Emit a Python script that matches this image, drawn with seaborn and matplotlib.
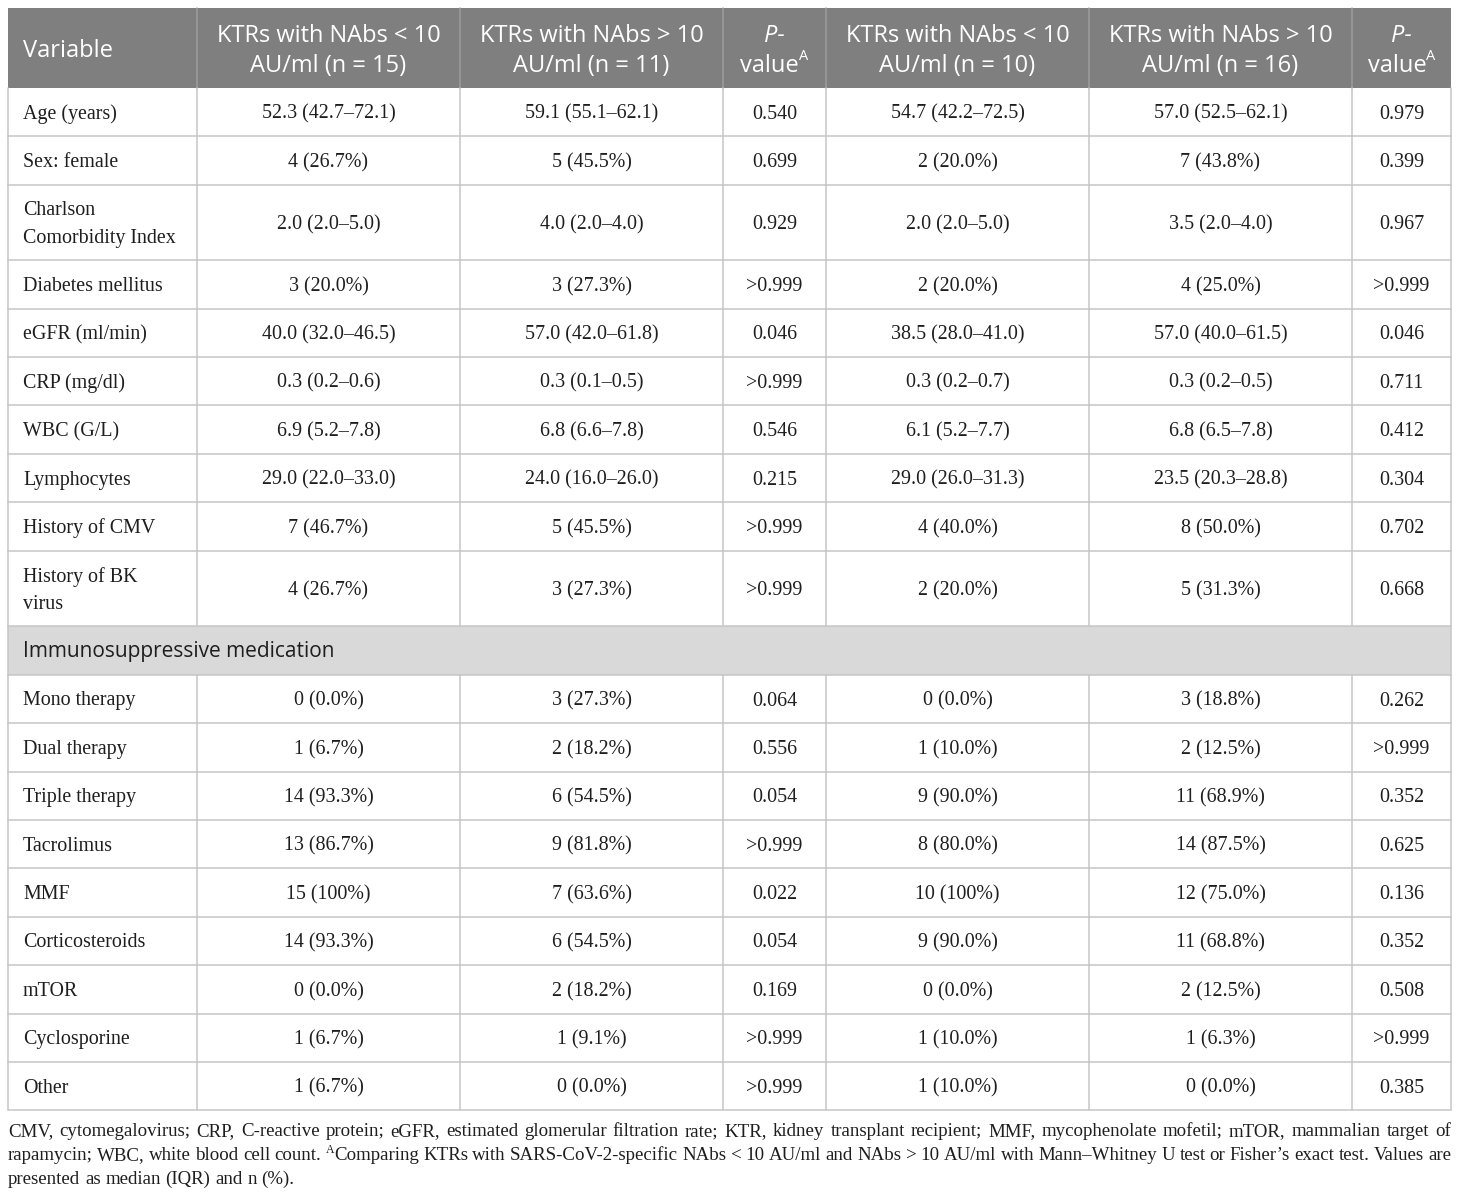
import matplotlib
matplotlib.use("Agg")
import matplotlib.pyplot as plt
import seaborn as sns
import pandas as pd

# ---------------- data ----------------
headers = ["Variable",
           "KTRs with NAbs < 10\nAU/ml (n = 15)",
           "KTRs with NAbs > 10\nAU/ml (n = 11)",
           "P-value",
           "KTRs with NAbs < 10\nAU/ml (n = 10)",
           "KTRs with NAbs > 10\nAU/ml (n = 16)",
           "P-value"]

variables = ["Age (years)", "Sex: female", "Charlson\nComorbidity Index",
             "Diabetes mellitus", "eGFR (ml/min)", "CRP (mg/dl)", "WBC (G/L)",
             "Lymphocytes", "History of CMV", "History of BK\nvirus",
             "Mono therapy", "Dual therapy", "Triple therapy", "Tacrolimus",
             "MMF", "Corticosteroids", "mTOR", "Cyclosporine", "Other"]

section_title = "Immunosuppressive medication"
section_before = "Mono therapy"

low_1 = ["52.3 (42.7–72.1)", "4 (26.7%)", "2.0 (2.0–5.0)", "3 (20.0%)",
         "40.0 (32.0–46.5)", "0.3 (0.2–0.6)", "6.9 (5.2–7.8)", "29.0 (22.0–33.0)",
         "7 (46.7%)", "4 (26.7%)", "0 (0.0%)", "1 (6.7%)", "14 (93.3%)",
         "13 (86.7%)", "15 (100%)", "14 (93.3%)", "0 (0.0%)", "1 (6.7%)", "1 (6.7%)"]
high_1 = ["59.1 (55.1–62.1)", "5 (45.5%)", "4.0 (2.0–4.0)", "3 (27.3%)",
          "57.0 (42.0–61.8)", "0.3 (0.1–0.5)", "6.8 (6.6–7.8)", "24.0 (16.0–26.0)",
          "5 (45.5%)", "3 (27.3%)", "3 (27.3%)", "2 (18.2%)", "6 (54.5%)",
          "9 (81.8%)", "7 (63.6%)", "6 (54.5%)", "2 (18.2%)", "1 (9.1%)", "0 (0.0%)"]
p_1 = ["0.540", "0.699", "0.929", ">0.999", "0.046", ">0.999", "0.546", "0.215",
       ">0.999", ">0.999", "0.064", "0.556", "0.054", ">0.999", "0.022", "0.054",
       "0.169", ">0.999", ">0.999"]
low_2 = ["54.7 (42.2–72.5)", "2 (20.0%)", "2.0 (2.0–5.0)", "2 (20.0%)",
         "38.5 (28.0–41.0)", "0.3 (0.2–0.7)", "6.1 (5.2–7.7)", "29.0 (26.0–31.3)",
         "4 (40.0%)", "2 (20.0%)", "0 (0.0%)", "1 (10.0%)", "9 (90.0%)",
         "8 (80.0%)", "10 (100%)", "9 (90.0%)", "0 (0.0%)", "1 (10.0%)", "1 (10.0%)"]
high_2 = ["57.0 (52.5–62.1)", "7 (43.8%)", "3.5 (2.0–4.0)", "4 (25.0%)",
          "57.0 (40.0–61.5)", "0.3 (0.2–0.5)", "6.8 (6.5–7.8)", "23.5 (20.3–28.8)",
          "8 (50.0%)", "5 (31.3%)", "3 (18.8%)", "2 (12.5%)", "11 (68.9%)",
          "14 (87.5%)", "12 (75.0%)", "11 (68.8%)", "2 (12.5%)", "1 (6.3%)", "0 (0.0%)"]
p_2 = ["0.979", "0.399", "0.967", ">0.999", "0.046", "0.711", "0.412", "0.304",
       "0.702", "0.668", "0.262", ">0.999", "0.352", "0.625", "0.136", "0.352",
       "0.508", ">0.999", "0.385"]

footnote_lines = [
    "CMV, cytomegalovirus; CRP, C-reactive protein; eGFR, estimated glomerular filtration rate; KTR, kidney transplant recipient; MMF, mycophenolate mofetil; mTOR, mammalian target of",
    "rapamycin; WBC, white blood cell count. ^AComparing KTRs with SARS-CoV-2-specific NAbs < 10 AU/ml and NAbs > 10 AU/ml with Mann–Whitney U test or Fisher’s exact test. Values are",
    "presented as median (IQR) and n (%).",
]

df = pd.DataFrame({"Variable": variables, "low_1": low_1, "high_1": high_1, "p_1": p_1,
                   "low_2": low_2, "high_2": high_2, "p_2": p_2})

# ---------------- style ----------------
sns.set_theme(style="white")
plt.rcParams['font.family'] = ['Liberation Serif', 'DejaVu Serif']

SERIF = ['Liberation Serif', 'DejaVu Serif']
SANS = ['Open Sans', 'DejaVu Sans']
HEAD_BG = "#7f7f7f"
SECT_BG = "#d9d9d9"
GRID = "#c6c6c6"
TXT = "#1e1e1e"

W, H = 1460, 1197
fig = plt.figure(figsize=(W / 100, H / 100), dpi=100)
ax = fig.add_axes([0, 0, 1, 1])
ax.set_xlim(0, W)
ax.set_ylim(H, 0)
ax.axis("off")
renderer = fig.canvas.get_renderer()

col_edges = [8, 197, 460, 723, 826, 1089, 1352, 1451]
x_left, x_right = col_edges[0], col_edges[-1]
top, head_h = 8, 80
row_h, row_h2, sect_h = 48.4, 75.5, 48.6
body_fs, head_fs, sect_fs, foot_fs = 14.4, 17.0, 15.0, 13.6
lw = 1.1

# header
ax.add_patch(plt.Rectangle((x_left, top), x_right - x_left, head_h, color=HEAD_BG, lw=0, zorder=0))
for j in range(1, len(col_edges) - 1):
    ax.plot([col_edges[j]] * 2, [top, top + head_h], color="#9c9c9c", lw=lw, zorder=1)
yc = top + head_h / 2
for j, h in enumerate(headers):
    if j == 0:
        ax.text(col_edges[0] + 15, yc + 3, h, ha="left", va="center", color="white",
                fontsize=head_fs, family=SANS)
    elif h == "P-value":
        cx = (col_edges[j] + col_edges[j + 1]) / 2
        ax.text(cx, yc - 12, "P-", ha="center", va="center", color="white",
                fontsize=head_fs, family=SANS, style="italic")
        tv = ax.text(0, 0, "value", fontsize=head_fs, family=SANS)
        wv = tv.get_window_extent(renderer).width
        tv.remove()
        ta = ax.text(0, 0, "A", fontsize=head_fs * 0.62, family=SANS)
        wa = ta.get_window_extent(renderer).width
        ta.remove()
        x0 = cx - (wv + wa) / 2
        ax.text(x0, yc + 18, "value", ha="left", va="center", color="white",
                fontsize=head_fs, family=SANS)
        ax.text(x0 + wv, yc + 8, "A", ha="left", va="center", color="white",
                fontsize=head_fs * 0.62, family=SANS)
    else:
        cx = (col_edges[j] + col_edges[j + 1]) / 2
        ax.text(cx, yc + 3, h, ha="center", va="center", color="white",
                fontsize=head_fs, family=SANS, linespacing=1.36, multialignment="center")

# body
y = top + head_h
value_cols = ["low_1", "high_1", "p_1", "low_2", "high_2", "p_2"]
for _, r in df.iterrows():
    if r["Variable"] == section_before:
        ax.add_patch(plt.Rectangle((x_left, y), x_right - x_left, sect_h, color=SECT_BG, lw=0, zorder=0))
        ax.text(col_edges[0] + 15, y + sect_h / 2 + 1, section_title, ha="left", va="center",
                color=TXT, fontsize=sect_fs, family=SANS)
        ax.plot([x_left, x_right], [y + sect_h] * 2, color=GRID, lw=lw, zorder=1)
        ax.plot([x_left] * 2, [y, y + sect_h], color=GRID, lw=lw, zorder=1)
        ax.plot([x_right] * 2, [y, y + sect_h], color=GRID, lw=lw, zorder=1)
        y += sect_h
    h = row_h2 if "\n" in r["Variable"] else row_h
    ym = y + h / 2 + 2
    ax.text(col_edges[0] + 15, ym, r["Variable"], ha="left", va="center", color=TXT,
            fontsize=body_fs, family=SERIF, linespacing=1.6)
    for j, c in enumerate(value_cols, start=1):
        cx = (col_edges[j] + col_edges[j + 1]) / 2
        ax.text(cx, ym, r[c], ha="center", va="center", color=TXT,
                fontsize=body_fs, family=SERIF)
    for xe in col_edges:
        ax.plot([xe] * 2, [y, y + h], color=GRID, lw=lw, zorder=1)
    ax.plot([x_left, x_right], [y + h] * 2, color=GRID, lw=lw, zorder=1)
    y += h
table_bottom = y


# footnote (justified)
def measure(s, fs):
    t = ax.text(0, 0, s, fontsize=fs, family=SERIF)
    w = t.get_window_extent(renderer).width
    t.remove()
    return w


def draw_line(line, yb, justify):
    words = line.split(" ")
    parts = []
    for w in words:
        if w.startswith("^A"):
            parts.append([("A", foot_fs * 0.62, -7), (w[2:], foot_fs, 0)])
        else:
            parts.append([(w, foot_fs, 0)])
    widths = [sum(measure(s, fs) for s, fs, _ in p) for p in parts]
    space = measure("a a", foot_fs) - measure("aa", foot_fs)
    if justify and len(parts) > 1:
        gap = max((x_right - x_left - sum(widths)) / (len(parts) - 1), space * 0.7)
    else:
        gap = space
    x = x_left
    for p, wd in zip(parts, widths):
        xx = x
        for s, fs, dy in p:
            ax.text(xx, yb + dy, s, ha="left", va="baseline", color=TXT, fontsize=fs, family=SERIF)
            xx += measure(s, fs)
        x += wd + gap


for i, line in enumerate(footnote_lines):
    draw_line(line, table_bottom + 26 + 24 * i, justify=(i < len(footnote_lines) - 1))

fig.savefig("out.png", dpi=100)
